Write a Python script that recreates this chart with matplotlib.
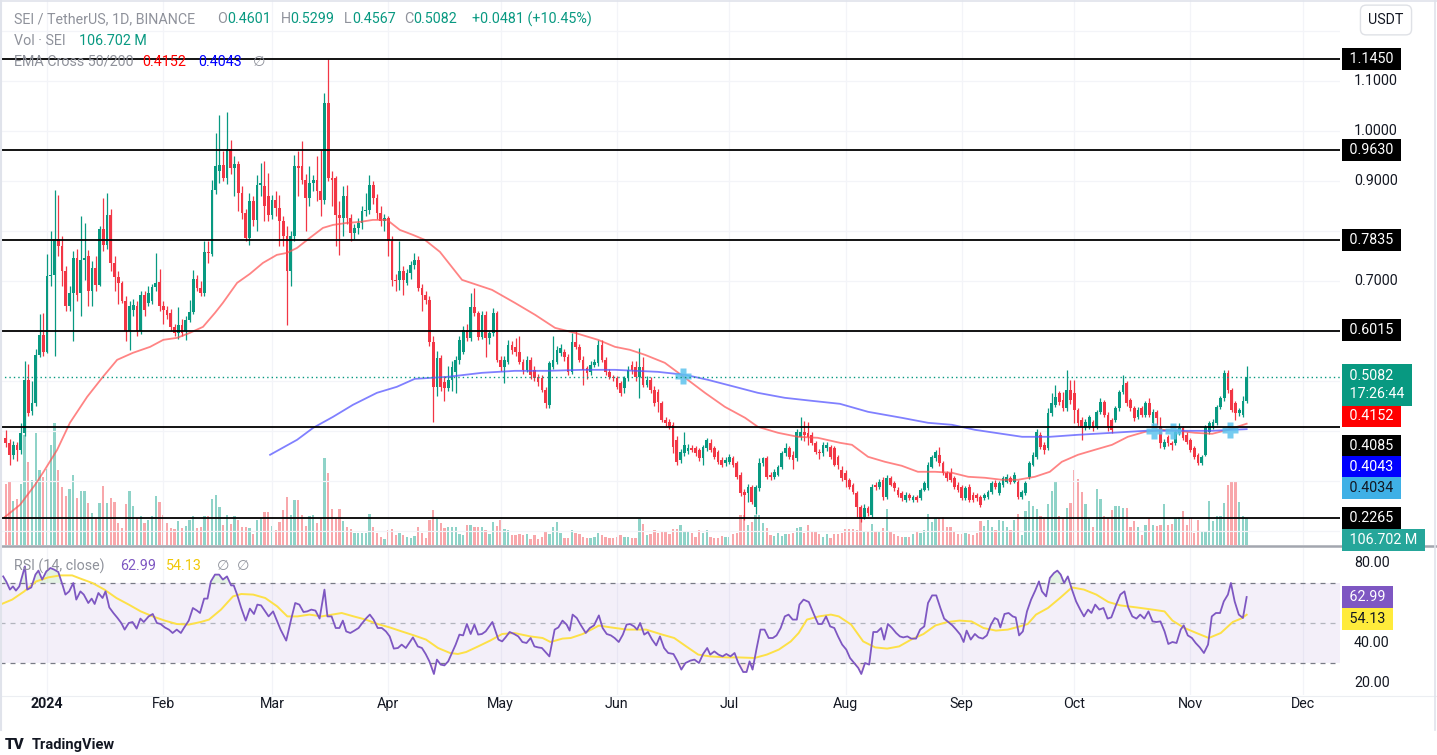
import numpy as np
import pandas as pd
import matplotlib
matplotlib.use("Agg")
import matplotlib.pyplot as plt
import matplotlib.transforms as mtransforms
from matplotlib.lines import Line2D

plt.rcParams['font.family'] = ['Roboto', 'DejaVu Sans']

# SEI / USDT daily candles, first candle 2023-12-21
start_date = "2023-12-21"

open_ = [
    0.386, 0.376, 0.353, 0.373, 0.363, 0.396, 0.503, 0.440, 0.456, 0.553,
    0.593, 0.559, 0.710, 0.713, 0.784, 0.770, 0.720, 0.650, 0.676, 0.746,
    0.676, 0.743, 0.750, 0.680, 0.726, 0.693, 0.805, 0.773, 0.832, 0.736,
    0.708, 0.696, 0.660, 0.600, 0.643, 0.650, 0.600, 0.672, 0.656, 0.660,
    0.689, 0.698, 0.650, 0.643, 0.636, 0.609, 0.596, 0.613, 0.600, 0.623,
    0.638, 0.704, 0.686, 0.676, 0.758, 0.755, 0.883, 0.920, 0.933, 0.906,
    0.965, 0.926, 0.934, 0.876, 0.836, 0.786, 0.860, 0.823, 0.893, 0.890,
    0.870, 0.833, 0.863, 0.846, 0.820, 0.790, 0.720, 0.790, 0.930, 0.930,
    0.903, 0.866, 0.896, 0.903, 0.880, 0.863, 1.056, 0.906, 0.906, 0.833,
    0.826, 0.870, 0.826, 0.796, 0.806, 0.816, 0.840, 0.843, 0.893, 0.866,
    0.836, 0.820, 0.826, 0.780, 0.703, 0.703, 0.720, 0.696, 0.716, 0.733,
    0.743, 0.686, 0.673, 0.663, 0.579, 0.489, 0.546, 0.499, 0.486, 0.503,
    0.519, 0.543, 0.559, 0.603, 0.586, 0.649, 0.636, 0.589, 0.633, 0.586,
    0.596, 0.636, 0.543, 0.529, 0.539, 0.573, 0.569, 0.559, 0.539, 0.523,
    0.543, 0.523, 0.509, 0.506, 0.483, 0.453, 0.529, 0.539, 0.556, 0.559,
    0.549, 0.519, 0.579, 0.569, 0.543, 0.526, 0.519, 0.533, 0.536, 0.573,
    0.543, 0.519, 0.509, 0.506, 0.496, 0.486, 0.506, 0.533, 0.529, 0.509,
    0.529, 0.493, 0.503, 0.483, 0.479, 0.456, 0.423, 0.419, 0.413, 0.383,
    0.343, 0.356, 0.361, 0.366, 0.366, 0.363, 0.346, 0.366, 0.376, 0.366,
    0.359, 0.343, 0.336, 0.339, 0.346, 0.336, 0.313, 0.279, 0.276, 0.289,
    0.249, 0.286, 0.336, 0.346, 0.313, 0.309, 0.313, 0.329, 0.356, 0.366,
    0.353, 0.346, 0.389, 0.399, 0.396, 0.393, 0.376, 0.359, 0.356, 0.366,
    0.369, 0.366, 0.349, 0.323, 0.316, 0.303, 0.293, 0.276, 0.249, 0.229,
    0.246, 0.232, 0.293, 0.289, 0.303, 0.269, 0.306, 0.296, 0.283, 0.276,
    0.263, 0.273, 0.263, 0.269, 0.266, 0.283, 0.286, 0.329, 0.346, 0.352,
    0.336, 0.316, 0.316, 0.306, 0.293, 0.289, 0.266, 0.289, 0.273, 0.273,
    0.269, 0.266, 0.269, 0.279, 0.296, 0.276, 0.293, 0.299, 0.306, 0.299,
    0.299, 0.269, 0.276, 0.309, 0.333, 0.349, 0.393, 0.373, 0.366, 0.436,
    0.453, 0.476, 0.463, 0.446, 0.483, 0.476, 0.443, 0.423, 0.409, 0.409,
    0.419, 0.409, 0.439, 0.459, 0.433, 0.423, 0.423, 0.446, 0.479, 0.496,
    0.463, 0.446, 0.429, 0.446, 0.433, 0.456, 0.416, 0.439, 0.410, 0.369,
    0.389, 0.376, 0.376, 0.396, 0.406, 0.393, 0.383, 0.366, 0.353, 0.336,
    0.353, 0.399, 0.409, 0.416, 0.449, 0.466, 0.516, 0.483, 0.456, 0.436,
    0.433, 0.4601,
]
high = [
    0.403, 0.385, 0.380, 0.378, 0.416, 0.540, 0.535, 0.500, 0.565, 0.635,
    0.636, 0.755, 0.800, 0.883, 0.873, 0.790, 0.730, 0.690, 0.760, 0.765,
    0.830, 0.816, 0.763, 0.740, 0.750, 0.810, 0.866, 0.876, 0.845, 0.750,
    0.720, 0.700, 0.670, 0.660, 0.665, 0.660, 0.680, 0.680, 0.690, 0.695,
    0.756, 0.725, 0.660, 0.650, 0.645, 0.615, 0.648, 0.625, 0.630, 0.663,
    0.723, 0.713, 0.700, 0.780, 0.780, 0.903, 0.996, 1.033, 0.960, 1.038,
    0.982, 0.950, 0.940, 0.890, 0.845, 0.876, 0.870, 0.913, 0.936, 0.940,
    0.916, 0.873, 0.880, 0.873, 0.830, 0.810, 0.800, 0.953, 0.960, 0.980,
    0.915, 0.930, 0.913, 0.950, 0.963, 1.076, 1.145, 0.920, 0.910, 0.860,
    0.890, 0.893, 0.835, 0.815, 0.826, 0.850, 0.876, 0.913, 0.900, 0.875,
    0.850, 0.835, 0.830, 0.790, 0.715, 0.780, 0.730, 0.725, 0.740, 0.756,
    0.750, 0.695, 0.680, 0.670, 0.590, 0.560, 0.553, 0.510, 0.530, 0.540,
    0.550, 0.590, 0.610, 0.615, 0.676, 0.686, 0.640, 0.640, 0.640, 0.600,
    0.646, 0.640, 0.550, 0.550, 0.583, 0.580, 0.586, 0.590, 0.545, 0.550,
    0.548, 0.530, 0.515, 0.512, 0.488, 0.540, 0.590, 0.570, 0.575, 0.565,
    0.555, 0.596, 0.600, 0.575, 0.550, 0.530, 0.540, 0.545, 0.583, 0.583,
    0.548, 0.525, 0.512, 0.510, 0.500, 0.510, 0.530, 0.540, 0.540, 0.566,
    0.548, 0.510, 0.508, 0.490, 0.485, 0.460, 0.428, 0.425, 0.418, 0.390,
    0.365, 0.399, 0.375, 0.372, 0.370, 0.366, 0.373, 0.386, 0.385, 0.370,
    0.362, 0.348, 0.348, 0.355, 0.350, 0.340, 0.318, 0.285, 0.295, 0.292,
    0.292, 0.346, 0.349, 0.350, 0.318, 0.325, 0.332, 0.360, 0.376, 0.370,
    0.360, 0.405, 0.429, 0.420, 0.419, 0.398, 0.380, 0.365, 0.378, 0.378,
    0.372, 0.370, 0.352, 0.330, 0.322, 0.306, 0.296, 0.280, 0.252, 0.255,
    0.250, 0.295, 0.298, 0.305, 0.308, 0.312, 0.310, 0.300, 0.288, 0.280,
    0.278, 0.276, 0.272, 0.272, 0.287, 0.300, 0.338, 0.352, 0.362, 0.368,
    0.340, 0.320, 0.326, 0.310, 0.298, 0.292, 0.290, 0.294, 0.278, 0.276,
    0.272, 0.276, 0.282, 0.300, 0.302, 0.300, 0.310, 0.314, 0.310, 0.318,
    0.302, 0.282, 0.300, 0.340, 0.358, 0.405, 0.398, 0.378, 0.446, 0.476,
    0.493, 0.480, 0.479, 0.523, 0.503, 0.503, 0.446, 0.428, 0.425, 0.432,
    0.422, 0.442, 0.466, 0.462, 0.438, 0.426, 0.450, 0.482, 0.513, 0.500,
    0.466, 0.450, 0.448, 0.450, 0.460, 0.466, 0.445, 0.443, 0.428, 0.385,
    0.392, 0.380, 0.402, 0.416, 0.410, 0.398, 0.387, 0.370, 0.356, 0.352,
    0.412, 0.420, 0.424, 0.452, 0.470, 0.523, 0.523, 0.486, 0.460, 0.447,
    0.470, 0.5299,
]
low = [
    0.369, 0.333, 0.345, 0.340, 0.355, 0.390, 0.430, 0.432, 0.450, 0.548,
    0.550, 0.556, 0.690, 0.550, 0.750, 0.690, 0.640, 0.640, 0.580, 0.660,
    0.630, 0.703, 0.650, 0.650, 0.680, 0.690, 0.760, 0.765, 0.720, 0.680,
    0.655, 0.656, 0.580, 0.563, 0.630, 0.590, 0.595, 0.630, 0.650, 0.655,
    0.680, 0.640, 0.615, 0.625, 0.600, 0.590, 0.585, 0.590, 0.583, 0.618,
    0.635, 0.680, 0.670, 0.670, 0.736, 0.750, 0.875, 0.896, 0.900, 0.895,
    0.915, 0.870, 0.840, 0.825, 0.780, 0.773, 0.810, 0.800, 0.870, 0.820,
    0.820, 0.825, 0.830, 0.770, 0.770, 0.612, 0.690, 0.780, 0.870, 0.895,
    0.800, 0.850, 0.880, 0.860, 0.830, 0.855, 0.900, 0.850, 0.770, 0.753,
    0.790, 0.815, 0.780, 0.785, 0.795, 0.805, 0.830, 0.835, 0.855, 0.825,
    0.810, 0.800, 0.750, 0.690, 0.680, 0.683, 0.673, 0.693, 0.705, 0.725,
    0.680, 0.640, 0.655, 0.570, 0.419, 0.470, 0.480, 0.460, 0.480, 0.480,
    0.476, 0.535, 0.555, 0.580, 0.580, 0.630, 0.583, 0.585, 0.548, 0.575,
    0.590, 0.538, 0.520, 0.496, 0.535, 0.555, 0.550, 0.535, 0.515, 0.518,
    0.505, 0.500, 0.490, 0.478, 0.446, 0.446, 0.525, 0.535, 0.550, 0.540,
    0.512, 0.515, 0.565, 0.538, 0.493, 0.505, 0.512, 0.528, 0.530, 0.538,
    0.512, 0.505, 0.500, 0.485, 0.470, 0.476, 0.500, 0.515, 0.500, 0.466,
    0.488, 0.488, 0.476, 0.450, 0.439, 0.419, 0.410, 0.405, 0.356, 0.333,
    0.336, 0.350, 0.355, 0.358, 0.350, 0.340, 0.333, 0.360, 0.358, 0.345,
    0.335, 0.328, 0.330, 0.335, 0.328, 0.305, 0.270, 0.222, 0.259, 0.255,
    0.235, 0.280, 0.330, 0.305, 0.303, 0.305, 0.310, 0.325, 0.350, 0.345,
    0.325, 0.340, 0.383, 0.380, 0.373, 0.372, 0.355, 0.345, 0.350, 0.360,
    0.345, 0.330, 0.325, 0.300, 0.289, 0.285, 0.275, 0.229, 0.219, 0.225,
    0.230, 0.228, 0.282, 0.285, 0.262, 0.265, 0.290, 0.280, 0.268, 0.260,
    0.258, 0.262, 0.258, 0.258, 0.262, 0.280, 0.283, 0.326, 0.340, 0.330,
    0.312, 0.300, 0.298, 0.285, 0.278, 0.262, 0.262, 0.258, 0.258, 0.260,
    0.248, 0.262, 0.265, 0.275, 0.284, 0.272, 0.288, 0.296, 0.294, 0.296,
    0.265, 0.265, 0.272, 0.305, 0.330, 0.345, 0.365, 0.355, 0.362, 0.430,
    0.448, 0.452, 0.440, 0.440, 0.455, 0.416, 0.410, 0.383, 0.402, 0.404,
    0.400, 0.405, 0.435, 0.428, 0.400, 0.396, 0.418, 0.440, 0.475, 0.450,
    0.440, 0.420, 0.424, 0.428, 0.428, 0.428, 0.410, 0.413, 0.366, 0.365,
    0.370, 0.363, 0.372, 0.392, 0.382, 0.375, 0.358, 0.345, 0.333, 0.332,
    0.350, 0.395, 0.405, 0.412, 0.444, 0.460, 0.476, 0.438, 0.423, 0.430,
    0.428, 0.4567,
]
close = [
    0.376, 0.353, 0.373, 0.363, 0.396, 0.503, 0.436, 0.456, 0.553, 0.593,
    0.559, 0.710, 0.713, 0.784, 0.771, 0.720, 0.650, 0.676, 0.746, 0.673,
    0.743, 0.746, 0.680, 0.726, 0.693, 0.805, 0.773, 0.832, 0.736, 0.708,
    0.696, 0.660, 0.600, 0.650, 0.653, 0.600, 0.672, 0.643, 0.676, 0.689,
    0.696, 0.650, 0.643, 0.633, 0.609, 0.596, 0.613, 0.596, 0.623, 0.638,
    0.704, 0.686, 0.676, 0.758, 0.756, 0.882, 0.930, 0.933, 0.906, 0.965,
    0.926, 0.934, 0.876, 0.836, 0.786, 0.860, 0.823, 0.893, 0.896, 0.850,
    0.833, 0.863, 0.846, 0.820, 0.790, 0.720, 0.790, 0.930, 0.927, 0.903,
    0.866, 0.896, 0.903, 0.880, 0.863, 1.056, 0.906, 0.903, 0.833, 0.826,
    0.870, 0.826, 0.796, 0.806, 0.816, 0.840, 0.843, 0.893, 0.866, 0.836,
    0.820, 0.826, 0.780, 0.703, 0.700, 0.720, 0.703, 0.716, 0.733, 0.743,
    0.686, 0.673, 0.663, 0.579, 0.489, 0.546, 0.489, 0.486, 0.503, 0.529,
    0.543, 0.583, 0.603, 0.586, 0.649, 0.636, 0.589, 0.633, 0.586, 0.596,
    0.636, 0.543, 0.529, 0.543, 0.573, 0.563, 0.559, 0.539, 0.523, 0.543,
    0.513, 0.506, 0.499, 0.483, 0.456, 0.536, 0.543, 0.563, 0.566, 0.549,
    0.519, 0.579, 0.569, 0.543, 0.523, 0.516, 0.533, 0.539, 0.573, 0.543,
    0.519, 0.509, 0.506, 0.489, 0.476, 0.506, 0.523, 0.523, 0.509, 0.529,
    0.493, 0.503, 0.483, 0.456, 0.459, 0.423, 0.416, 0.409, 0.369, 0.339,
    0.359, 0.373, 0.366, 0.363, 0.356, 0.346, 0.369, 0.383, 0.363, 0.349,
    0.339, 0.333, 0.343, 0.349, 0.333, 0.309, 0.276, 0.273, 0.289, 0.259,
    0.289, 0.336, 0.346, 0.309, 0.309, 0.319, 0.329, 0.356, 0.366, 0.349,
    0.343, 0.399, 0.399, 0.393, 0.389, 0.376, 0.359, 0.356, 0.373, 0.373,
    0.349, 0.333, 0.333, 0.306, 0.303, 0.289, 0.279, 0.249, 0.226, 0.246,
    0.236, 0.289, 0.289, 0.299, 0.269, 0.306, 0.293, 0.286, 0.273, 0.266,
    0.273, 0.266, 0.269, 0.263, 0.283, 0.296, 0.333, 0.349, 0.359, 0.336,
    0.316, 0.306, 0.303, 0.289, 0.283, 0.266, 0.286, 0.263, 0.263, 0.266,
    0.253, 0.273, 0.279, 0.296, 0.289, 0.296, 0.306, 0.309, 0.299, 0.313,
    0.269, 0.279, 0.296, 0.336, 0.352, 0.399, 0.369, 0.363, 0.436, 0.456,
    0.469, 0.459, 0.446, 0.483, 0.463, 0.443, 0.416, 0.409, 0.419, 0.429,
    0.409, 0.439, 0.459, 0.433, 0.406, 0.403, 0.446, 0.479, 0.493, 0.456,
    0.446, 0.426, 0.443, 0.433, 0.456, 0.433, 0.439, 0.426, 0.376, 0.379,
    0.376, 0.373, 0.399, 0.406, 0.386, 0.379, 0.363, 0.349, 0.336, 0.349,
    0.409, 0.416, 0.419, 0.449, 0.466, 0.516, 0.483, 0.443, 0.436, 0.443,
    0.4601, 0.5082,
]
# volume in millions of SEI
volume_m = [
    241, 248, 174, 181, 241, 435, 329, 255, 442, 295,
    268, 302, 395, 482, 295, 228, 194, 221, 275, 187,
    214, 214, 167, 127, 106, 167, 232, 167, 187, 170,
    86, 66, 160, 214, 154, 106, 116, 86, 100, 116,
    194, 171, 120, 86, 66, 62, 93, 66, 77, 100,
    113, 66, 70, 116, 116, 181, 198, 150, 80, 120,
    84, 116, 97, 73, 73, 69, 43, 97, 106, 129,
    129, 75, 59, 89, 140, 190, 119, 178, 178, 119,
    77, 116, 120, 86, 106, 342, 286, 143, 106, 143,
    93, 73, 62, 46, 46, 49, 49, 124, 73, 46,
    32, 22, 59, 62, 39, 46, 39, 32, 26, 35,
    70, 46, 26, 100, 140, 102, 86, 66, 70, 70,
    73, 43, 39, 80, 78, 73, 70, 73, 59, 43,
    92, 75, 97, 62, 59, 39, 39, 43, 39, 43,
    23, 39, 22, 32, 57, 43, 70, 89, 46, 29,
    26, 59, 49, 43, 32, 26, 26, 32, 49, 39,
    32, 26, 26, 32, 39, 32, 30, 26, 26, 104,
    84, 39, 43, 59, 49, 57, 53, 43, 62, 62,
    80, 57, 57, 46, 32, 59, 49, 59, 30, 26,
    26, 35, 32, 32, 43, 46, 120, 120, 80, 90,
    120, 120, 86, 66, 39, 35, 46, 35, 43, 43,
    46, 66, 70, 49, 80, 57, 53, 43, 32, 43,
    26, 43, 43, 46, 62, 62, 63, 59, 120, 57,
    57, 84, 57, 53, 66, 143, 57, 43, 35, 32,
    32, 32, 43, 53, 46, 59, 124, 89, 106, 106,
    109, 73, 70, 53, 43, 43, 49, 43, 39, 49,
    93, 75, 100, 73, 59, 100, 93, 73, 59, 100,
    124, 39, 133, 174, 156, 143, 116, 106, 160, 214,
    251, 116, 106, 147, 167, 295, 261, 210, 160, 106,
    73, 221, 183, 113, 106, 140, 154, 154, 147, 147,
    73, 93, 73, 39, 80, 106, 80, 75, 80, 160,
    80, 84, 106, 110, 133, 80, 106, 46, 97, 53,
    53, 174, 93, 113, 116, 167, 237, 248, 251, 170,
    113, 106.702,
]

# EMA 50 / EMA 200 (day = days since first candle)
ema50_day = [
    -0.5, 3.8, 7.8, 9.9, 13.7, 17.1, 21.7, 25.9, 29.7, 33.9,
    38.5, 42.0, 45.7, 49.1, 52.6, 55.8, 57.9, 61.7, 65.1, 68.6,
    72.3, 75.0, 77.7, 81.1, 84.6, 87.3, 91.0, 94.5, 97.9, 101.7,
    105.1, 108.6, 111.8, 115.8, 121.7, 129.7, 135.8, 141.2, 146.5, 151.8,
    158.0, 162.5, 166.5, 170.5, 175.8, 181.2, 186.5, 191.8, 197.2, 200.6,
    206.0, 211.3, 216.6, 222.5, 225.7, 230.0, 234.5, 239.0, 243.3, 247.9,
    252.4, 256.7, 261.2, 265.7, 270.0, 274.5, 278.5, 281.7, 286.0, 290.5,
    295.1, 299.3, 303.9, 308.4, 312.7, 317.2, 321.8, 326.0, 331.0,
]
ema50 = [
    0.227, 0.253, 0.293, 0.317, 0.363, 0.417, 0.469, 0.509, 0.543, 0.557,
    0.569, 0.583, 0.587, 0.597, 0.609, 0.637, 0.657, 0.697, 0.715, 0.737,
    0.753, 0.757, 0.767, 0.787, 0.807, 0.813, 0.817, 0.819, 0.823, 0.823,
    0.803, 0.793, 0.783, 0.759, 0.703, 0.683, 0.657, 0.633, 0.607, 0.597,
    0.583, 0.569, 0.563, 0.553, 0.537, 0.507, 0.477, 0.449, 0.427, 0.409,
    0.397, 0.389, 0.387, 0.377, 0.373, 0.349, 0.339, 0.331, 0.319, 0.319,
    0.317, 0.309, 0.307, 0.303, 0.303, 0.309, 0.319, 0.339, 0.353, 0.363,
    0.373, 0.389, 0.399, 0.403, 0.401, 0.397, 0.395, 0.403, 0.4152,
]
ema200_day = [
    70.5, 77.7, 82.0, 87.3, 92.6, 99.0, 104.3, 109.1, 117.9, 127.0,
    135.8, 144.6, 153.7, 162.5, 173.9, 181.2, 187.3, 194.5, 200.6, 207.8,
    215.0, 222.5, 230.0, 239.0, 246.0, 252.4, 258.5, 265.7, 271.1, 278.5,
    286.0, 295.1, 303.9, 312.7, 321.8, 331.0,
]
ema200 = [
    0.353, 0.383, 0.407, 0.429, 0.453, 0.477, 0.489, 0.505, 0.509, 0.517,
    0.521, 0.521, 0.523, 0.523, 0.519, 0.513, 0.503, 0.489, 0.477, 0.467,
    0.461, 0.455, 0.439, 0.427, 0.417, 0.413, 0.403, 0.395, 0.389, 0.389,
    0.393, 0.397, 0.401, 0.401, 0.401, 0.4043,
]
cross_day = [180.6, 306.2, 311.3, 326.5]
cross_price = [0.510, 0.401, 0.401, 0.402]

# RSI(14) and its moving average
rsi_day = [
    -0.7, 0.1, 1.1, 1.9, 2.7, 3.6, 5.1, 5.7, 6.8, 7.9,
    8.7, 9.7, 10.8, 11.9, 12.9, 14.0, 15.1, 15.9, 16.9, 18.0,
    18.8, 19.9, 20.8, 22.0, 22.9, 23.7, 24.7, 25.8, 26.6, 27.6,
    28.7, 29.8, 30.8, 31.7, 32.8, 33.8, 34.9, 35.9, 36.8, 38.1,
    39.2, 40.3, 41.3, 42.4, 43.5, 44.5, 45.6, 46.7, 47.5, 48.8,
    49.9, 51.0, 51.8, 52.9, 53.8, 54.7, 55.8, 56.9, 57.9, 59.0,
    60.1, 60.8, 61.7, 62.8, 64.0, 65.1, 66.2, 67.1, 68.1, 69.2,
    70.1, 71.3, 72.2, 73.3, 74.8, 76.2, 77.2, 78.3, 79.4, 80.4,
    81.5, 82.6, 83.7, 85.0, 85.8, 86.9, 88.0, 89.0, 89.9, 90.8,
    91.9, 93.0, 94.1, 95.1, 96.2, 97.1, 98.1, 99.2, 100.3, 101.4,
    102.4, 103.5, 104.6, 105.6, 106.7, 107.6, 108.6, 109.9, 111.0, 112.0,
    113.0, 114.2, 115.0, 116.0, 117.0, 118.0, 119.0, 120.0, 121.0, 122.0,
    123.0, 124.0, 125.0, 126.0, 127.0, 128.0, 129.8, 131.4, 132.4, 133.3,
    134.4, 135.6, 136.7, 137.8, 138.9, 140.0, 141.0, 142.0, 143.0, 145.0,
    145.8, 146.4, 147.4, 148.5, 149.6, 150.4, 151.2, 152.3, 153.3, 154.7,
    155.8, 156.9, 158.2, 159.2, 160.3, 161.4, 162.4, 163.5, 164.6, 165.6,
    166.5, 167.6, 168.4, 169.2, 170.3, 171.3, 172.4, 173.5, 174.5, 175.6,
    176.7, 178.1, 179.2, 180.2, 181.3, 182.6, 183.7, 184.9, 186.0, 187.1,
    187.9, 189.0, 190.1, 191.2, 192.2, 193.3, 194.4, 195.4, 196.7, 197.6,
    198.4, 199.2, 200.3, 201.3, 202.4, 203.5, 204.6, 205.6, 206.7, 207.8,
    208.8, 209.9, 211.0, 211.7, 212.8, 214.2, 215.6, 216.7, 217.7, 218.8,
    219.9, 221.0, 222.0, 223.1, 224.2, 225.2, 226.3, 227.4, 228.2, 229.2,
    230.3, 231.4, 232.4, 233.5, 234.3, 235.3, 236.4, 237.5, 238.5, 239.4,
    240.5, 241.5, 242.8, 243.9, 245.0, 246.0, 247.1, 248.2, 249.3, 250.3,
    251.4, 252.5, 253.5, 254.6, 255.5, 256.3, 257.4, 258.5, 259.5, 260.6,
    261.7, 262.8, 263.8, 264.6, 265.3, 266.4, 267.5, 268.6, 269.4, 270.3,
    271.3, 272.4, 273.5, 274.6, 275.6, 276.4, 277.5, 278.5, 279.6, 280.5,
    281.4, 282.3, 283.3, 284.4, 285.5, 286.6, 287.6, 288.7, 289.6, 290.6,
    291.7, 292.8, 293.9, 294.9, 296.2, 297.3, 298.4, 299.4, 300.5, 301.6,
    302.6, 303.7, 304.8, 305.9, 306.9, 308.0, 309.1, 310.1, 311.2, 312.3,
    313.4, 314.2, 315.3, 316.4, 317.4, 318.5, 319.6, 320.7, 321.7, 322.8,
    323.9, 324.9, 326.0, 326.8, 327.8, 328.9, 330.0, 331.0,
]
rsi = [
    73.3, 70.8, 66.7, 68.3, 66.2, 68.3, 78.3, 66.7, 67.8, 74.2,
    76.2, 71.7, 75.8, 77.5, 76.7, 75.5, 69.2, 64.2, 65.8, 70.0,
    61.7, 65.8, 64.2, 60.0, 62.2, 59.5, 65.0, 62.5, 65.8, 57.8,
    55.0, 52.5, 50.0, 46.7, 50.0, 50.5, 47.2, 52.2, 50.5, 53.3,
    54.5, 50.0, 49.5, 47.8, 46.7, 45.0, 46.7, 45.0, 47.5, 51.2,
    57.5, 56.2, 55.0, 62.2, 62.2, 70.8, 74.2, 74.2, 71.7, 73.3,
    68.8, 68.8, 64.2, 57.5, 51.2, 57.2, 54.5, 59.2, 58.8, 55.8,
    53.3, 55.8, 51.7, 46.7, 41.2, 52.5, 60.0, 59.2, 55.5, 55.8,
    56.7, 56.2, 52.2, 66.7, 53.3, 53.3, 47.5, 47.5, 51.2, 45.8,
    45.0, 46.2, 47.5, 50.0, 52.5, 54.2, 51.7, 47.5, 47.5, 45.8,
    43.3, 37.2, 37.5, 39.2, 37.5, 40.0, 42.8, 38.3, 37.5, 34.5,
    30.8, 24.5, 31.7, 29.2, 28.8, 30.8, 35.0, 39.2, 44.2, 43.8,
    49.5, 44.5, 49.2, 44.2, 44.5, 45.8, 50.5, 41.7, 40.8, 42.8,
    45.5, 44.5, 43.3, 40.5, 40.0, 42.5, 38.3, 37.8, 37.5, 33.3,
    40.8, 46.7, 47.8, 51.2, 49.2, 46.2, 54.2, 52.5, 49.2, 45.0,
    47.5, 48.8, 53.8, 47.5, 44.5, 43.8, 42.5, 40.5, 44.2, 49.2,
    49.5, 48.3, 46.7, 50.0, 44.2, 45.5, 41.7, 38.8, 43.3, 37.5,
    35.0, 34.5, 30.8, 26.7, 30.0, 31.2, 31.7, 30.0, 34.5, 37.5,
    34.2, 35.8, 34.2, 33.3, 34.5, 33.3, 35.0, 30.0, 25.5, 25.5,
    30.8, 26.7, 37.5, 46.7, 46.7, 42.5, 42.5, 43.8, 47.5, 53.3,
    54.2, 51.7, 51.7, 59.2, 61.7, 60.5, 54.2, 49.5, 49.5, 53.3,
    48.3, 47.5, 43.3, 39.2, 36.7, 32.5, 30.0, 27.5, 24.5, 30.0,
    29.2, 45.5, 45.5, 47.5, 41.7, 49.5, 47.5, 45.0, 43.3, 42.8,
    43.3, 42.2, 42.2, 46.7, 48.3, 60.0, 63.8, 63.8, 57.5, 52.2,
    50.5, 48.8, 46.7, 44.2, 40.5, 46.2, 41.7, 44.5, 42.8, 42.2,
    43.8, 49.2, 52.5, 51.7, 47.8, 54.5, 55.0, 53.3, 52.8, 43.8,
    45.8, 55.8, 61.7, 66.2, 70.8, 65.8, 63.3, 72.5, 75.0, 76.2,
    74.2, 70.0, 73.3, 66.7, 60.8, 56.7, 53.3, 56.7, 55.0, 59.2,
    56.7, 57.5, 52.2, 52.8, 59.2, 64.2, 65.8, 57.8, 53.3, 52.2,
    54.2, 52.2, 55.8, 50.8, 50.5, 50.8, 45.8, 39.5, 40.5, 40.0,
    46.7, 48.8, 43.8, 42.5, 40.0, 37.8, 35.0, 39.2, 53.3, 55.0,
    55.0, 60.8, 64.2, 70.0, 60.8, 54.2, 52.5, 62.99,
]
rsi_ma_day = [
    -1.5, 1.7, 4.9, 8.1, 11.3, 14.5, 17.7, 19.9, 23.1, 26.3,
    29.5, 32.8, 36.0, 39.2, 42.4, 45.6, 48.8, 52.0, 54.2, 57.4,
    60.6, 62.8, 66.0, 69.2, 72.4, 75.1, 77.8, 81.0, 84.2, 89.6,
    92.8, 96.0, 99.2, 102.4, 105.6, 108.9, 112.1, 115.3, 118.5, 120.6,
    122.8, 126.0, 129.2, 132.4, 135.6, 139.9, 143.2, 145.3, 148.5, 150.7,
    153.9, 158.2, 161.4, 165.7,
    170.8, 175.1, 178.3, 181.5, 184.7, 187.9, 192.2, 195.4, 199.7, 203.0,
    206.2, 209.4, 211.5, 213.7, 216.9, 220.1, 222.2, 225.5, 228.7, 231.9,
    235.1, 238.3, 241.5, 244.8, 248.0, 251.2, 254.4, 257.6, 260.8, 264.1,
    267.3, 270.5, 272.6, 274.8, 278.0, 281.2, 284.4, 287.6, 290.9, 294.1,
    297.3, 301.6, 305.9, 309.1, 311.2, 314.4, 317.6, 320.9, 324.1, 327.3,
    329.5, 331.0,
]
rsi_ma = [
    59.2, 61.7, 65.8, 70.8, 72.8, 73.8, 73.8, 72.2, 70.0, 66.7,
    62.5, 59.2, 55.8, 53.3, 51.2, 49.5, 49.2, 50.5, 51.7, 56.7,
    63.3, 64.5, 64.2, 62.5, 58.3, 53.3, 53.3, 54.2, 53.3, 55.0,
    53.3, 51.7, 49.5, 47.8, 45.8, 43.8, 41.7, 37.5, 35.0, 34.5,
    35.5, 38.3, 41.2, 44.5, 45.0, 43.3, 42.5, 40.5, 42.2, 42.5,
    44.5, 48.7, 47.8, 46.7,
    46.7, 44.2, 42.5, 38.3, 34.2, 33.3, 32.8, 32.8, 32.5, 34.2,
    36.7, 40.8, 45.0, 51.7, 53.3, 54.2, 53.3, 49.2, 40.8, 37.8,
    37.2, 38.3, 41.7, 44.5, 48.8, 50.5, 51.2, 50.8, 47.5, 46.2,
    46.7, 48.3, 49.5, 54.2, 57.5, 62.5, 67.8, 66.7, 64.2, 60.5,
    58.8, 57.8, 56.7, 55.8, 51.2, 47.5, 45.0, 42.5, 45.0, 50.5,
    52.2, 54.13,
]

# horizontal support / resistance lines drawn on the chart
levels = [1.1450, 0.9630, 0.7835, 0.6015, 0.4085, 0.2265]

# ---------------------------------------------------------------------------
GREEN = "#089981"
RED = "#f23645"
TEXT = "#131722"
GRAY = "#8f929b"

W, H = 1437, 755
fig = plt.figure(figsize=(W / 100, H / 100), dpi=100)
fig.patch.set_facecolor("white")


def fx(px):
    return px / W


def fy(py):
    return 1 - py / H


ax = fig.add_axes([0, fy(545), fx(1340), 545 / H])
axv = ax.twinx()
axr = fig.add_axes([0, fy(695), fx(1340), (695 - 548) / H])

o = np.array(open_)
h = np.array(high)
l = np.array(low)
c = np.array(close)
vol = np.array(volume_m)
days = np.arange(len(c))
up = c >= o
cols = np.where(up, GREEN, RED)
vcols = np.where(up, "#8fd3c8", "#f8a7ab")

x_left, x_right = -1.55, 355.9
start = pd.Timestamp(start_date)
months = pd.date_range("2024-01-01", "2024-12-01", freq="MS")
month_x = [(m - start).days for m in months]

for a in (ax, axv, axr):
    a.set_xlim(x_left, x_right)
    a.set_xticks([])
    a.set_yticks([])
    for s in a.spines.values():
        s.set_visible(False)

# faint grid
for mx in month_x:
    ax.axvline(mx, color="#f3f4f8", lw=0.9, zorder=0)
    axr.axvline(mx, color="#f3f4f8", lw=0.9, zorder=0)
for p in np.arange(0.2, 1.25, 0.1):
    ax.axhline(p, color="#f3f4f8", lw=0.9, zorder=0)

# volume behind the candles
axv.bar(days, vol, width=0.62, color=vcols, linewidth=0)
axv.set_ylim(0, 2153)
ax.set_zorder(axv.get_zorder() + 1)
ax.patch.set_visible(False)

# candles
ax.vlines(days, l, h, colors=cols, lw=0.9, zorder=3)
ax.bar(days, np.maximum(np.abs(c - o), 0.0016), bottom=np.minimum(o, c),
       width=0.72, color=cols, linewidth=0, zorder=4)
ax.set_ylim(0.1725, 1.263)

# EMA cross
ax.plot(ema50_day, ema50, color="#ff5050", alpha=0.7, lw=1.3, zorder=5)
ax.plot(ema200_day, ema200, color="#5656ff", alpha=0.75, lw=1.3, zorder=5)
ax.plot(cross_day, cross_price, ls="none", marker="P", ms=12,
        color="#5ec3ee", alpha=0.85, mec="none", zorder=6)

for lv in levels:
    ax.axhline(lv, color="black", lw=1.3, zorder=6)
ax.axhline(c[-1], color=GREEN, lw=1, ls=(0, (1, 2.2)), zorder=6)

# RSI pane
axr.set_ylim(14, 87.5)
axr.axhspan(30, 70, color="#7e57c2", alpha=0.09, lw=0)
axr.axhline(70, color="#787b86", lw=0.9, ls=(0, (4, 4)))
axr.axhline(50, color="#b2b5be", lw=0.9, ls=(0, (4, 4)))
axr.axhline(30, color="#787b86", lw=0.9, ls=(0, (4, 4)))
rd = np.array(rsi_day)
rv = np.array(rsi)
axr.fill_between(rd, rv, 70, where=rv > 70, interpolate=True,
                 color="#4caf50", alpha=0.15, lw=0)
axr.fill_between(rd, rv, 30, where=rv < 30, interpolate=True,
                 color="#f23645", alpha=0.10, lw=0)
axr.plot(rsi_ma_day, rsi_ma, color="#fde047", lw=1.4)
axr.plot(rsi_day, rsi, color="#7e57c2", lw=1.3)

# pane separators / frame
fig.add_artist(Line2D([0, 1], [fy(546), fy(546)], color="#a3a6af", lw=1.8))
fig.add_artist(Line2D([0, 1], [fy(696), fy(696)], color="#eceef2", lw=0.8))
fig.add_artist(Line2D([fx(1.5), fx(1.5)], [fy(0), fy(730)], color="#e0e3eb", lw=1.5))
fig.add_artist(Line2D([0, 1], [fy(1), fy(1)], color="#e0e3eb", lw=1.2))
fig.add_artist(Line2D([fx(1435), fx(1435)], [fy(0), fy(730)], color="#e0e3eb", lw=1.2))

# header legend
FS = 10.3
chg = c[-1] - c[-2]
header = [
    ("SEI / TetherUS, 1D, BINANCE", 14, 19, GRAY),
    ("O", 217, 19, GRAY), (f"{o[-1]:.4f}", 227, 19, GREEN),
    ("H", 281, 19, GRAY), (f"{h[-1]:.4f}", 290, 19, GREEN),
    ("L", 344, 19, GRAY), (f"{l[-1]:.4f}", 352, 19, GREEN),
    ("C", 404, 19, GRAY), (f"{c[-1]:.4f}", 413, 19, GREEN),
    (f"+{chg:.4f} (+{chg / c[-2] * 100:.2f}%)", 472, 19, GREEN),
    ("Vol · SEI", 14, 41, GRAY), (f"{vol[-1]:.3f} M", 79, 41, GREEN),
    ("EMA Cross 50/200", 14, 62, GRAY), (f"{ema50[-1]:.4f}", 142, 62, "#ff0000"),
    (f"{ema200[-1]:.4f}", 198, 62, "#0000ff"), ("∅", 253, 62, GRAY),
    ("RSI (14, close)", 14, 566, GRAY), (f"{rsi[-1]:.2f}", 120, 566, "#7e57c2"),
    (f"{rsi_ma[-1]:.2f}", 166, 566, "#f0c808"), ("∅", 217, 566, GRAY),
    ("∅", 237, 566, GRAY),
]
for s, px, py, col in header:
    fig.text(fx(px), fy(py), s, color=col, fontsize=FS, va="center", ha="left",
             family=["Roboto", "DejaVu Sans"])

# right price scale
tr_price = mtransforms.blended_transform_factory(fig.transFigure, ax.transData)
for p in [1.1, 1.0, 0.9, 0.7]:
    ax.text(fx(1354), p, f"{p:.4f}", transform=tr_price, color=TEXT,
            fontsize=FS, va="center", ha="left", clip_on=False)
tr_rsi = mtransforms.blended_transform_factory(fig.transFigure, axr.transData)
for r in [80, 40, 20]:
    axr.text(fx(1354), r, f"{r:.2f}", transform=tr_rsi, color=TEXT,
             fontsize=FS, va="center", ha="left", clip_on=False)

boxes = [
    ("1.1450", 59, "#000000", "white"),
    ("0.9630", 150, "#000000", "white"),
    ("0.7835", 240, "#000000", "white"),
    ("0.6015", 330, "#000000", "white"),
    (f"{ema50[-1]:.4f}", 416, "#ff0000", "white"),
    ("0.4085", 446, "#000000", "white"),
    (f"{ema200[-1]:.4f}", 467, "#0000ff", "white"),
    ("0.4034", 488, "#3fb0e6", TEXT),
    ("0.2265", 518, "#000000", "white"),
    (f"{vol[-1]:.3f} M", 540, "#26a69a", "white"),
    (f"{rsi[-1]:.2f}", 597, "#7e57c2", "white"),
    (f"{rsi_ma[-1]:.2f}", 619, "#ffeb3b", TEXT),
]
for s, py, bg, fg in boxes:
    fig.text(fx(1346), fy(py), f" {s} ", color=fg, fontsize=FS, va="center",
             ha="left", bbox=dict(boxstyle="square,pad=0.28", fc=bg, ec="none"))
fig.text(fx(1346), fy(385), f" {c[-1]:.4f}    \n 17:26:44 ", color="white",
         fontsize=FS, va="center", ha="left", linespacing=1.45,
         bbox=dict(boxstyle="square,pad=0.3", fc=GREEN, ec="none"))
fig.text(fx(1386), fy(20), "USDT", color=TEXT, fontsize=FS, va="center",
         ha="center", bbox=dict(boxstyle="round,pad=0.55,rounding_size=0.4",
                                fc="white", ec="#dfe1e6", lw=1))

# time axis
tr_time = mtransforms.blended_transform_factory(axr.transData, fig.transFigure)
for m, mx in zip(months, month_x):
    lab = m.strftime("%Y") if m.month == 1 else m.strftime("%b")
    axr.text(mx, fy(704), lab, transform=tr_time, ha="center", va="center",
             fontsize=FS, color=TEXT, fontweight="bold" if m.month == 1 else "normal",
             clip_on=False)

# branding
fig.text(fx(5), fy(745), "TV", fontsize=11, fontweight="heavy", color=TEXT,
         va="center", ha="left")
fig.text(fx(32), fy(745), "TradingView", fontsize=10.5, fontweight="bold",
         color=TEXT, va="center", ha="left")

fig.savefig("out.png", dpi=100)
